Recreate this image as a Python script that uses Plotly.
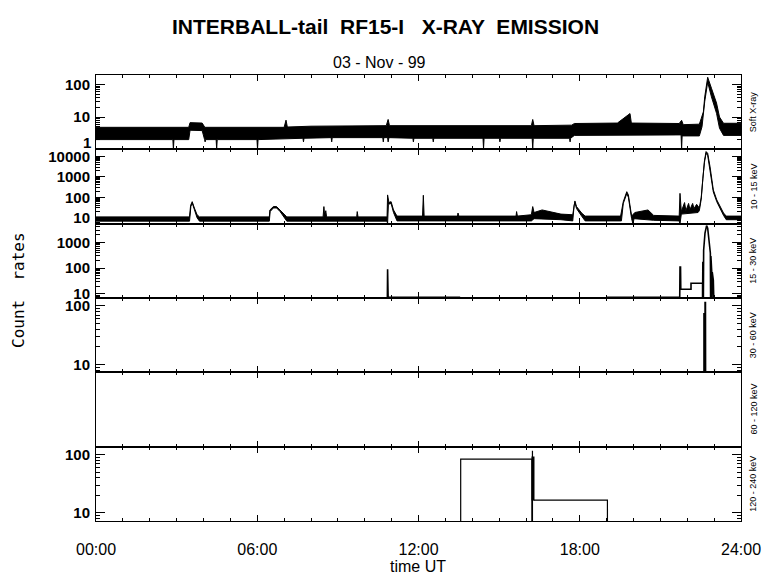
import plotly.graph_objects as go
from plotly.subplots import make_subplots

# ---------------- data (hours UT, count rates) ----------------
# Panel 1: Soft X-ray, min/max envelope
soft_t_hi = [0.00, 3.45, 3.50, 3.95, 4.05, 7.00, 7.07, 7.12, 8.00, 10.80, 10.87, 10.92, 16.20, 16.25, 16.30,
             17.70, 17.80, 19.40, 19.87, 19.92, 21.70, 21.79, 21.85, 22.45, 22.52, 22.60, 22.65, 22.76, 22.90,
             23.09, 23.20, 23.35, 24.00]
soft_hi = [4.8, 4.8, 6.7, 6.5, 4.8, 4.8, 8.0, 4.9, 5.2, 5.4, 8.4, 5.4, 5.4, 8.4, 5.4,
           5.6, 6.3, 6.5, 12.8, 6.5, 6.3, 7.9, 5.8, 6.0, 9.0, 14.5, 42, 170, 78,
           27, 10, 6.4, 6.4]
soft_t_lo = [0.00, 2.86, 2.88, 2.90, 3.45, 3.50, 3.95, 4.04, 4.06, 4.08, 4.47, 4.49, 4.51, 5.99, 6.01, 6.03,
             7.70, 7.72, 7.74, 8.00, 8.75, 8.77, 8.79, 10.67, 10.69, 10.71, 10.85, 10.87, 10.90, 11.79, 11.81, 11.83,
             12.53, 12.55, 12.57, 14.40, 14.42, 14.44, 15.01, 15.03, 15.05, 16.23, 16.25, 16.27, 17.62, 17.64, 17.66,
             17.80, 21.77, 21.79, 21.81, 22.45, 22.55, 22.65, 22.76, 22.90, 23.09, 23.20, 23.35, 24.00]
soft_lo = [2.0, 2.0, 1.0, 2.0, 2.0, 3.9, 3.8, 2.0, 1.7, 2.0, 2.0, 1.0, 2.0, 2.0, 1.0, 2.0,
           2.2, 1.7, 2.2, 2.3, 2.3, 1.7, 2.3, 2.3, 1.7, 2.3, 2.3, 1.7, 2.3, 2.2, 1.7, 2.2,
           2.2, 1.7, 2.2, 2.2, 1.05, 2.2, 2.2, 1.7, 2.2, 2.2, 1.0, 2.2, 2.2, 1.7, 2.2,
           2.7, 2.8, 1.0, 2.6, 2.6, 5.0, 30, 120, 42, 13, 4.5, 2.7, 2.7]

# Panel 2: 10 - 15 keV, min/max envelope
k10_t_hi = [0.00, 3.48, 3.52, 3.58, 3.66, 3.76, 3.85, 6.45, 6.47, 6.60, 6.72, 6.85, 6.97, 7.10, 8.45, 8.48,
            8.51, 8.55, 8.58, 9.70, 9.72, 9.75, 10.83, 10.85, 10.90, 10.98, 11.07, 11.20, 12.15, 12.18, 12.21,
            13.45, 13.47, 13.50, 15.63, 15.65, 15.68, 16.20, 16.25, 16.30, 16.60, 16.90, 17.30, 17.74, 17.82,
            17.88, 18.07, 18.20, 19.52, 19.62, 19.75, 19.81, 19.87, 19.93, 20.05, 20.54, 20.75, 21.70, 21.73,
            21.78, 21.90, 21.95, 22.05, 22.10, 22.20, 22.25, 22.35, 22.45, 22.52, 22.58, 22.64, 22.70, 22.76,
            22.85, 22.97, 23.10, 23.22, 23.35, 23.45, 24.00]
k10_hi = [11, 11, 40, 61, 30, 14, 11, 11, 24, 35, 35, 24, 16, 11, 11, 35,
          12, 22, 11, 11, 20, 11, 11, 130, 55, 61, 24, 12, 12, 125, 12,
          12, 17, 12, 12, 20, 12, 14, 35, 18, 24, 20, 15, 14, 66,
          35, 17, 12, 12, 61, 187, 130, 35, 12, 18, 24, 13, 12, 155,
          20, 55, 22, 50, 25, 50, 28, 45, 30, 100, 1000, 6000, 17000, 14000,
          3000, 230, 74, 35, 17, 12, 12]
k10_t_lo = [0.00, 3.48, 3.53, 3.58, 3.66, 3.76, 3.85, 6.45, 6.48, 6.60, 6.72, 6.85, 6.97, 7.10, 10.83,
            10.85, 10.88, 10.98, 11.07, 11.20, 16.20, 16.30, 17.30, 17.74, 17.79, 17.82, 17.88, 18.07, 18.20,
            19.55, 19.62, 19.75, 19.81, 19.87, 19.93, 19.98, 20.02, 20.75, 21.70, 21.73, 21.78, 22.40, 22.45,
            22.52, 22.58, 22.64, 22.70, 22.76, 22.85, 22.97, 23.10, 23.22, 23.35, 23.45, 24.00]
k10_lo = [6.8, 6.8, 35, 52, 25, 10, 6.8, 6.8, 20, 30, 30, 20, 12, 6.8, 6.8,
          5, 45, 50, 18, 7, 7, 9, 8, 7, 40, 55, 28, 12, 7,
          7, 50, 150, 100, 28, 9, 5, 9, 7.5, 7, 5, 15, 18, 22,
          80, 800, 5000, 14000, 11000, 2500, 180, 60, 28, 13, 8, 8]

# Panel 3: 15 - 30 keV (None = data gap, 5 = below plotted range)
k15_t = [0.00, 0.15, None, 10.84, 10.85, 10.87, 13.55, None, 19.00, 21.72, 21.73, 21.75, 21.76, 22.14, 22.14,
         22.57, 22.57, 22.58, 22.60, 22.61, 22.66, 22.72, 22.76, 22.81, 22.86, 22.87, 22.88, 22.91, 22.92,
         22.93, 22.97, 22.99]
k15_v = [7.5, 7.5, None, 5, 91, 7.5, 7.5, None, 7.5, 7.5, 110, 110, 15.2, 15.2, 26,
         26, 5, 180, 5, 500, 2300, 4500, 3600, 1260, 390, 5, 300, 74, 5,
         70, 35, 5]

# Panel 4: 30 - 60 keV
k30_t = [22.63, 22.63, 22.635, None, 22.67, 22.67, 22.675]
k30_v = [5, 76, 5, None, 5, 118, 5]

# Panel 5: 60 - 120 keV  (no counts above range)

# Panel 6: 120 - 240 keV
k120_t = [13.57, 13.57, 16.22, 16.22, None, 16.24, 16.24, None, 16.28, 19.03, 19.03]
k120_v = [5, 84, 84, 5, None, 117, 5, None, 16.4, 16.4, 5]
k120_thick_t = [16.26, 16.26]
k120_thick_v = [93, 16.2]

panel_labels = ["Soft X-ray", "10 - 15 keV", "15 - 30 keV", "30 - 60 keV", "60 - 120 keV", "120 - 240 keV"]
x_tickvals = [0, 6, 12, 18, 24]
x_ticktext = ["00:00", "06:00", "12:00", "18:00", "24:00"]
y_ranges = [[0.0, 2.3], [0.71, 4.34], [0.844, 3.73], [0.864, 2.136], [0, 1], [0.856, 2.139]]
y_ticks = [[10, 100], [10, 100, 1000, 10000], [10, 100, 1000], [10, 100], [], [10, 100]]

# ---------------- figure ----------------
fig = make_subplots(rows=6, cols=1, vertical_spacing=0)


def band(t_hi, hi, t_lo, lo):
    return go.Scatter(x=t_hi + t_lo[::-1], y=hi + lo[::-1], mode="lines", fill="toself",
                      fillcolor="black", line=dict(color="black", width=1), hoverinfo="skip",
                      showlegend=False)


fig.add_trace(band(soft_t_hi, soft_hi, soft_t_lo, soft_lo), row=1, col=1)
fig.add_trace(band(k10_t_hi, k10_hi, k10_t_lo, k10_lo), row=2, col=1)
fig.add_trace(go.Scatter(x=k15_t, y=k15_v, mode="lines", line=dict(color="black", width=1.6),
                         connectgaps=False, showlegend=False), row=3, col=1)
fig.add_trace(go.Scatter(x=k30_t, y=k30_v, mode="lines", line=dict(color="black", width=2),
                         connectgaps=False, showlegend=False), row=4, col=1)
fig.add_trace(go.Scatter(x=[None], y=[None], mode="lines", showlegend=False), row=5, col=1)
fig.add_trace(go.Scatter(x=k120_t, y=k120_v, mode="lines", line=dict(color="black", width=1.2),
                         connectgaps=False, showlegend=False), row=6, col=1)
fig.add_trace(go.Scatter(x=k120_thick_t, y=k120_thick_v, mode="lines", line=dict(color="black", width=3),
                         showlegend=False), row=6, col=1)

FONT = "Liberation Sans, Arial, Helvetica, sans-serif"
YFONT = dict(family=FONT, size=15, color="black", weight="bold")

for i in range(6):
    r = i + 1
    fig.update_xaxes(row=r, col=1, range=[0, 24], tickmode="array", tickvals=x_tickvals, ticktext=x_ticktext,
                     ticks="inside", ticklen=6, tickwidth=1, tickcolor="black",
                     showline=True, linecolor="black", linewidth=1, mirror="ticks",
                     showgrid=False, zeroline=False,
                     minor=dict(ticks="inside", ticklen=3, tickwidth=1, tickcolor="black", dtick=1, tick0=0,
                                showgrid=False),
                     showticklabels=(r == 6),
                     tickfont=dict(family=FONT, size=16, color="black"),
                     ticklabelstandoff=14)
    if i == 4:
        fig.update_yaxes(row=r, col=1, range=y_ranges[i], showticklabels=False, ticks="",
                         showline=True, linecolor="black", linewidth=1, mirror=True,
                         showgrid=False, zeroline=False)
        continue
    lo_d = int(y_ranges[i][0])
    hi_d = int(y_ranges[i][1]) + 1
    minor_vals = [k * 10 ** d for d in range(lo_d, hi_d) for k in range(2, 10)]
    fig.update_yaxes(row=r, col=1, type="log", range=y_ranges[i], tickmode="array",
                     tickvals=y_ticks[i], ticktext=[str(v) for v in y_ticks[i]],
                     ticks="inside", ticklen=9, tickwidth=1, tickcolor="black",
                     showline=True, linecolor="black", linewidth=1, mirror="ticks",
                     showgrid=False, zeroline=False,
                     minor=dict(ticks="inside", ticklen=4, tickwidth=1, tickcolor="black",
                                tickmode="array", tickvals=minor_vals, showgrid=False),
                     tickfont=YFONT, ticklabelstandoff=2)

# bottom label "1" of the soft X-ray axis, set just above the panel edge as in the original
fig.add_annotation(text="1", xref="paper", yref="paper", x=(93 - 96) / 645, y=(521 - 142) / 446,
                   xanchor="right", yanchor="middle", showarrow=False, font=YFONT)

# panel side labels
dom_h = 1.0 / 6
for i, lab in enumerate(panel_labels):
    yc = 1 - (i + 0.5) * dom_h
    fig.add_annotation(text=lab, xref="paper", yref="paper", x=(753 - 96) / 645, y=yc,
                       xanchor="center", yanchor="middle", textangle=-90, showarrow=False,
                       font=dict(family=FONT, size=9, color="black"))

fig.add_annotation(text="INTERBALL-tail  RF15-I   X-RAY  EMISSION", xref="paper", yref="paper",
                   x=(385 - 96) / 645, y=(521 - 27) / 446, xanchor="center", yanchor="middle", showarrow=False,
                   font=dict(family=FONT, size=21, color="black", weight="bold"))
fig.add_annotation(text="03 - Nov - 99", xref="paper", yref="paper",
                   x=(379 - 96) / 645, y=(521 - 62) / 446, xanchor="center", yanchor="middle", showarrow=False,
                   font=dict(family=FONT, size=16, color="black"))
fig.add_annotation(text="time UT", xref="paper", yref="paper",
                   x=(418 - 96) / 645, y=(521 - 566) / 446, xanchor="center", yanchor="middle", showarrow=False,
                   font=dict(family=FONT, size=16, color="black"))
fig.add_annotation(text="Count  rates", xref="paper", yref="paper",
                   x=(18 - 96) / 645, y=(521 - 290) / 446, xanchor="center", yanchor="middle", showarrow=False,
                   textangle=-90, font=dict(family="DejaVu Sans Mono, monospace", size=16, color="black"))

fig.update_layout(width=780, height=579, margin=dict(l=96, r=39, t=75, b=58),
                  paper_bgcolor="white", plot_bgcolor="white", showlegend=False)

fig.write_html("out.html", config={"displayModeBar": False},
               post_script="document.body.style.margin='0';")
